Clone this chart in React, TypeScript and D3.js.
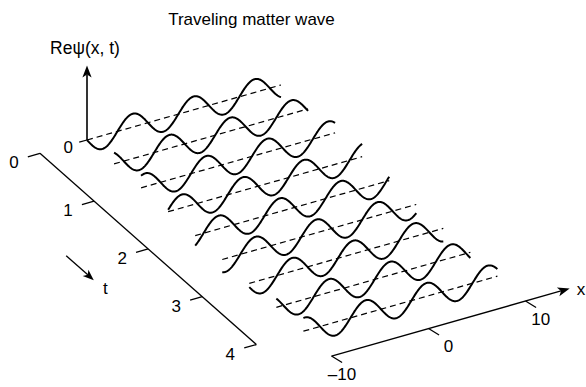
import React from "react";
import * as d3 from "d3";

// Chart content
const title = "Traveling matter wave";
const psiLabel = "Reψ(x, t)";
const timeRows = [0, 0.5, 1, 1.5, 2, 2.5, 3, 3.5, 4];
const timeTicks = [0, 1, 2, 3, 4];
const xTicks = [-10, 0, 10];
const xTickLabels = ["\u201310", "0", "10"];
const xExtent = [-10, 10];

// Re ψ(x, t) = A cos(k x − ω t + φ)
const waveNumber = 1;
const angularFrequency = 2;
const phaseOffset = 5.29;
const waveAmplitude = 1;

const W = 586;
const H = 387;

// Oblique projection: x runs up-right, t runs down-right, ψ runs straight up
const origin = { x: 87, y: 140 };
const sx = d3.scaleLinear().domain([-10, 10]).range([0, 194]);
const xSlope = -0.2835;
const tx = d3.scaleLinear().domain([0, 4]).range([0, 216.4]);
const ty = d3.scaleLinear().domain([0, 4]).range([0, 191.2]);
const py = d3.scaleLinear().domain([0, 1]).range([0, -13.3]);

const P = (x: number, t: number, psi = 0): [number, number] => [
  origin.x + sx(x) + tx(t),
  origin.y + sx(x) * xSlope + ty(t) + py(psi),
];

const tAxisX = -14.85;
const xAxisT = 4.52;
const psiAxisTop = 5.6;
const xAxisEnd = 14.55;

const psi = (x: number, t: number) =>
  waveAmplitude * Math.cos(waveNumber * x - angularFrequency * t + phaseOffset);

const line = d3.line<[number, number]>().curve(d3.curveLinear);

function arrowHead(from: [number, number], tip: [number, number], len = 12, half = 4.6, notch = 3) {
  const dx = tip[0] - from[0];
  const dy = tip[1] - from[1];
  const L = Math.hypot(dx, dy);
  const ux = dx / L, uy = dy / L;
  const px = -uy, py2 = ux;
  const bx = tip[0] - ux * len, by = tip[1] - uy * len;
  const nx = tip[0] - ux * (len - notch), ny = tip[1] - uy * (len - notch);
  return {
    d: `M${tip[0]},${tip[1]}L${bx + px * half},${by + py2 * half}L${nx},${ny}L${bx - px * half},${by - py2 * half}Z`,
    shaftEnd: [nx, ny] as [number, number],
  };
}

export default function App() {
  const samples = d3.range(xExtent[0], xExtent[1] + 1e-9, 0.05);

  const psiBase = P(-10, 0, 0);
  const psiTip = P(-10, 0, psiAxisTop);
  const psiHead = arrowHead(psiBase, psiTip);

  const xStart = P(-10, xAxisT);
  const xTip = P(xAxisEnd, xAxisT);
  const xHead = arrowHead(xStart, xTip);

  const tArrowFrom = P(-21.85, 1.74);
  const tArrowTip = P(-21.85, 2.25);
  const tHead = arrowHead(tArrowFrom, tArrowTip, 11, 4.3, 3);
  const tLabel = P(-21.6, 2.42);

  const font = "'Liberation Sans', Arial, Helvetica, sans-serif";

  return (
    <svg
      width={W}
      height={H}
      viewBox={`0 0 ${W} ${H}`}
      style={{ position: "absolute", left: 0, top: 0, background: "#fff" }}
      fontFamily={font}
    >
      <rect width={W} height={H} fill="#fff" />
      <text x={251.5} y={25} textAnchor="middle" fontSize={17} fill="#000">
        {title}
      </text>

      {/* ψ axis */}
      <line x1={psiBase[0]} y1={psiBase[1]} x2={psiHead.shaftEnd[0]} y2={psiHead.shaftEnd[1]} stroke="#000" strokeWidth={1.6} />
      <path d={psiHead.d} fill="#000" />
      <text x={psiTip[0] - 2} y={53.5} textAnchor="middle" fontSize={17.5} fill="#000">
        {psiLabel}
      </text>
      {(() => {
        const a = P(-10, 0);
        const b = P(-10.8, 0);
        const l = P(-12.12, 0.035);
        return (
          <g>
            <line x1={a[0]} y1={a[1]} x2={b[0]} y2={b[1]} stroke="#000" strokeWidth={1.2} />
            <text x={l[0]} y={l[1]} dy="0.35em" textAnchor="middle" fontSize={17} fill="#000">0</text>
          </g>
        );
      })()}

      {/* baselines and wave rows */}
      {timeRows.map((t) => {
        const a = P(xExtent[0], t);
        const b = P(xExtent[1], t);
        return (
          <line key={`b${t}`} x1={a[0]} y1={a[1]} x2={b[0]} y2={b[1]} stroke="#000" strokeWidth={1.2} strokeDasharray="6,4" />
        );
      })}
      {timeRows.map((t) => (
        <path
          key={`w${t}`}
          d={line(samples.map((x) => P(x, t, psi(x, t)))) || ""}
          fill="none"
          stroke="#000"
          strokeWidth={2}
          strokeLinejoin="round"
        />
      ))}

      {/* t axis */}
      {(() => {
        const a = P(tAxisX, 0);
        const b = P(tAxisX, 4);
        return <line x1={a[0]} y1={a[1]} x2={b[0]} y2={b[1]} stroke="#000" strokeWidth={1.3} />;
      })()}
      {timeTicks.map((t) => {
        const a = P(tAxisX, t);
        const b = P(tAxisX - 1.25, t);
        const l = P(tAxisX - 2.83, t + 0.026);
        return (
          <g key={`tt${t}`}>
            <line x1={a[0]} y1={a[1]} x2={b[0]} y2={b[1]} stroke="#000" strokeWidth={1.3} />
            <text x={l[0]} y={l[1]} dy="0.35em" textAnchor="middle" fontSize={17} fill="#000">
              {t}
            </text>
          </g>
        );
      })}
      <line x1={tArrowFrom[0]} y1={tArrowFrom[1]} x2={tHead.shaftEnd[0]} y2={tHead.shaftEnd[1]} stroke="#000" strokeWidth={1.3} />
      <path d={tHead.d} fill="#000" />
      <text x={tLabel[0]} y={tLabel[1]} dy="0.35em" textAnchor="middle" fontSize={17} fill="#000">t</text>

      {/* x axis */}
      <line x1={xStart[0]} y1={xStart[1]} x2={xHead.shaftEnd[0]} y2={xHead.shaftEnd[1]} stroke="#000" strokeWidth={1.3} />
      <path d={xHead.d} fill="#000" />
      <text x={xTip[0] + 7} y={xTip[1] + 6} fontSize={17} fill="#000">x</text>
      {xTicks.map((x, i) => {
        const a = P(x, xAxisT);
        const b = P(x + 0.25, xAxisT + 0.15);
        const l = P(x + 0.33, xAxisT + 0.395);
        return (
          <g key={`xt${x}`}>
            <line x1={a[0]} y1={a[1]} x2={b[0]} y2={b[1]} stroke="#000" strokeWidth={1.3} />
            <text x={l[0]} y={l[1]} dy="0.35em" textAnchor="end" fontSize={17} fill="#000">
              {xTickLabels[i]}
            </text>
          </g>
        );
      })}
    </svg>
  );
}
